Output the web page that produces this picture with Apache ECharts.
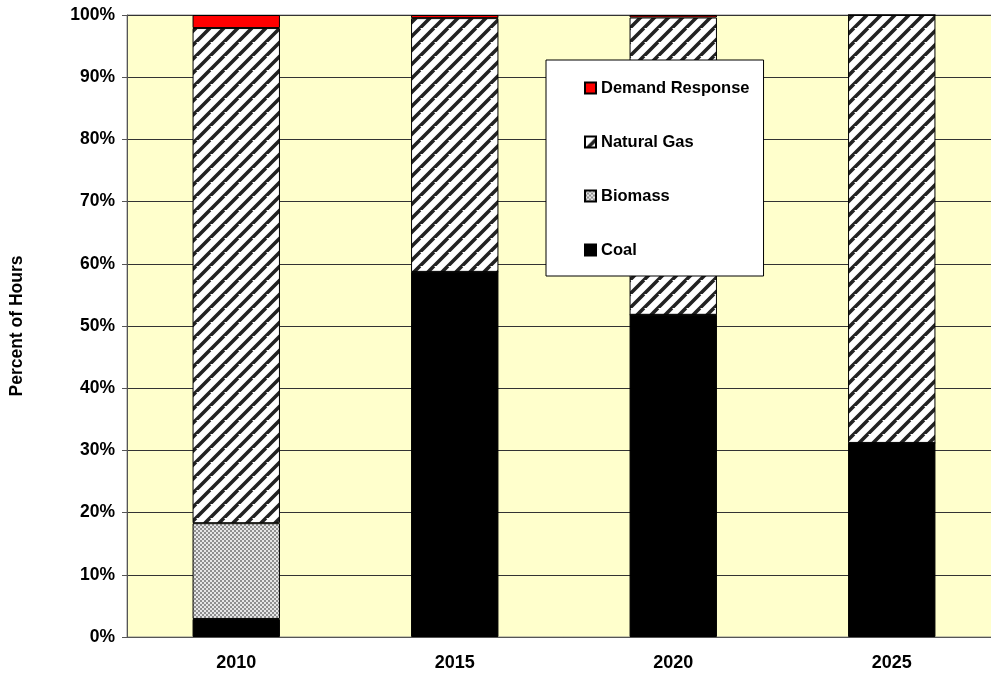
<!DOCTYPE html>
<html>
<head>
<meta charset="utf-8">
<script src="https://cdn.jsdelivr.net/npm/echarts@6/dist/echarts.min.js"></script>
<style>
  html, body { margin: 0; padding: 0; background: #fff; overflow: hidden; }
  /* plot area runs past the right edge in the original, so the canvas is a bit wider than the window */
  #chart { width: 1001px; height: 677px; }
</style>
</head>
<body>
<div id="chart"></div>
<script>
// data (percent of hours)
const years = ['2010', '2015', '2020', '2025'];
const coal = [2.9, 58.7, 51.8, 31.2];
const biomass = [15.4, 0, 0, 0];
const naturalGas = [79.6, 40.8, 47.8, 68.8];
const demandResponse = [2.1, 0.5, 0.4, 0];

// hatch patterns like the old excel fills
function stripePattern() {
    const s = 14;
    const c = document.createElement('canvas');
    c.width = s; c.height = s;
    const ctx = c.getContext('2d');
    ctx.fillStyle = '#fff';
    ctx.fillRect(0, 0, s, s);
    ctx.strokeStyle = '#222';
    ctx.lineWidth = 3.6;
    ctx.beginPath();
    for (let k = -s; k <= 2 * s; k += s) {
        ctx.moveTo(k - s, 2 * s);
        ctx.lineTo(k + s, 0);
    }
    ctx.stroke();
    return c;
}
function checkerPattern() {
    const c = document.createElement('canvas');
    c.width = 4; c.height = 4;
    const ctx = c.getContext('2d');
    ctx.fillStyle = '#e6e6e6';
    ctx.fillRect(0, 0, 4, 4);
    ctx.fillStyle = '#8f8f8f';
    ctx.fillRect(0, 0, 2, 2);
    ctx.fillRect(2, 2, 2, 2);
    return c;
}

const chart = echarts.init(document.getElementById('chart'));
const font = '"Liberation Sans", Arial, sans-serif';

function barSeries(name, data, color) {
    return {
        name,
        type: 'bar',
        stack: 'total',
        barWidth: '40%',
        data,
        itemStyle: {color, borderColor: '#000', borderWidth: 1},
        emphasis: {disabled: true}
    };
}

const option = {
    animation: false,
    textStyle: {fontFamily: font},
    grid: {
        left: 126, top: 15, right: 0, bottom: 40,
        show: true, backgroundColor: '#ffffcc',
        borderColor: '#8c8c8c', borderWidth: 1
    },
    legend: {
        orient: 'vertical',
        left: 546, top: 60,
        data: ['Demand Response', 'Natural Gas', 'Biomass', 'Coal'],
        backgroundColor: '#fff',
        borderColor: '#000',
        borderWidth: 1,
        padding: [18, 14, 16, 38],
        itemGap: 34,
        itemWidth: 11,
        itemHeight: 11,
        icon: 'rect',
        textStyle: {fontFamily: font, fontWeight: 'bold', fontSize: 16.5, lineHeight: 20, color: '#000'}
    },
    xAxis: {
        type: 'category',
        data: years,
        axisLine: {lineStyle: {color: '#555'}},
        axisTick: {length: 5, lineStyle: {color: '#555'}},
        axisLabel: {fontFamily: font, fontWeight: 'bold', fontSize: 18, color: '#000', margin: 17}
    },
    yAxis: {
        type: 'value',
        min: 0, max: 100, interval: 10,
        name: 'Percent of Hours',
        nameLocation: 'middle',
        nameGap: 101,
        nameRotate: 90,
        nameTextStyle: {fontFamily: font, fontWeight: 'bold', fontSize: 17.5, color: '#000'},
        axisLine: {show: true, lineStyle: {color: '#555'}},
        axisTick: {show: true, length: 5, lineStyle: {color: '#555'}},
        axisLabel: {formatter: '{value}%', fontFamily: font, fontWeight: 'bold', fontSize: 17.5, color: '#000', margin: 12},
        splitLine: {lineStyle: {color: '#333', width: 1}}
    },
    series: [
        barSeries('Coal', coal, '#000'),
        barSeries('Biomass', biomass, {image: checkerPattern(), repeat: 'repeat'}),
        barSeries('Natural Gas', naturalGas, {image: stripePattern(), repeat: 'repeat'}),
        barSeries('Demand Response', demandResponse, '#ff0000')
    ]
};

chart.setOption(option);
</script>
</body>
</html>
